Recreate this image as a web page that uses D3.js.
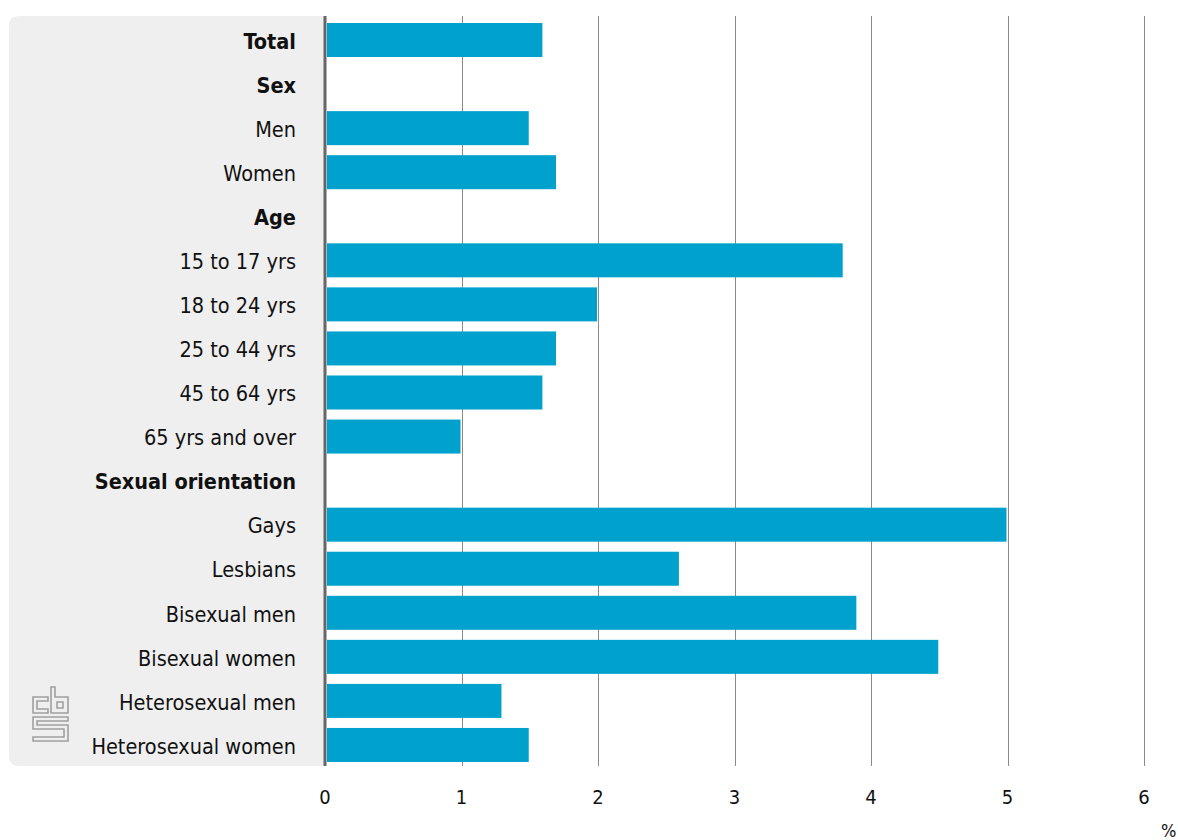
<!DOCTYPE html>
<html>
<head>
<meta charset="utf-8">
<script src="https://cdn.jsdelivr.net/npm/d3@7"></script>
<style>
  html, body { margin: 0; padding: 0; background: #fff; }
  svg { display: block; }
  text { font-family: "DejaVu Sans Condensed", "DejaVu Sans", sans-serif; }
</style>
</head>
<body>
<svg id="chart" width="1178" height="840"></svg>
<script>
const categories = ["Total", "Sex", "Men", "Women", "Age", "15 to 17 yrs", "18 to 24 yrs", "25 to 44 yrs", "45 to 64 yrs", "65 yrs and over", "Sexual orientation", "Gays", "Lesbians", "Bisexual men", "Bisexual women", "Heterosexual men", "Heterosexual women"];
const values = [1.6, null, 1.5, 1.7, null, 3.8, 2.0, 1.7, 1.6, 1.0, null, 5.0, 2.6, 3.9, 4.5, 1.3, 1.5];
const headers = ["Total", "Sex", "Age", "Sexual orientation"];
const ticks = [0, 1, 2, 3, 4, 5, 6];
const unitLabel = "%";

const svg = d3.select("#chart");
const x0 = 325, x1 = 1144, yTop = 16, yBottom = 766;

const x = d3.scaleLinear().domain([0, 6]).range([x0, x1]);
const y = d3.scaleBand().domain(categories).range([18, 767]).paddingInner(0.228).paddingOuter(0.114);

// grey panel with rounded left corners
const pl = 9, r = 10;
svg.append("path")
  .attr("d", `M${x0},${yTop} H${pl + r} Q${pl},${yTop} ${pl},${yTop + r} V${yBottom - r} Q${pl},${yBottom} ${pl + r},${yBottom} H${x0} Z`)
  .attr("fill", "#efefef");

// gridlines
svg.append("g").selectAll("line").data(ticks.filter(t => t > 0)).join("line")
  .attr("x1", d => Math.round(x(d)) + 0.5).attr("x2", d => Math.round(x(d)) + 0.5)
  .attr("y1", yTop).attr("y2", yBottom)
  .attr("stroke", "#8a8a8a").attr("stroke-width", 1);

// bars
svg.append("g").selectAll("rect").data(categories.filter((c, i) => values[i] != null)).join("rect")
  .attr("x", x(0) + 2)
  .attr("y", d => y(d))
  .attr("width", d => x(values[categories.indexOf(d)]) - x(0) - 3)
  .attr("height", y.bandwidth())
  .attr("fill", "#00a1cd");

// axis line
svg.append("line").attr("x1", x0).attr("x2", x0).attr("y1", yTop).attr("y2", yBottom)
  .attr("stroke", "#666").attr("stroke-width", 3);

// category labels
svg.append("g").selectAll("text").data(categories).join("text")
  .attr("x", 296)
  .attr("y", d => y(d) + y.bandwidth() / 2 + 1)
  .attr("dy", "0.36em")
  .attr("text-anchor", "end")
  .attr("font-size", 21.5)
  .attr("font-weight", d => headers.includes(d) ? "bold" : "normal")
  .attr("fill", "#111")
  .text(d => d);

// x tick labels
svg.append("g").selectAll("text").data(ticks).join("text")
  .attr("x", d => x(d))
  .attr("y", 797)
  .attr("dy", "0.36em")
  .attr("text-anchor", "middle")
  .attr("font-size", 20)
  .attr("fill", "#111")
  .text(d => d);

svg.append("text").attr("x", 1161).attr("y", 831).attr("dy", "0.36em")
  .attr("font-size", 18).attr("fill", "#111").text(unitLabel);

// CBS logo (outline)
const logo = svg.append("g").attr("transform", "translate(33,687)")
  .attr("fill", "none").attr("stroke", "#a0a0a0").attr("stroke-width", 1.6);
logo.append("path").attr("d", "M15,10 H0 V26 H15 V22 H4 V14 H15 Z");
logo.append("path").attr("d", "M18,0 H22 V10 H35 V26 H18 Z");
logo.append("path").attr("d", "M24,15 H30 V21 H24 Z");
logo.append("path").attr("d", "M0,30 H35 V34 H4 V38 H35 V54 H0 V50 H31 V42 H0 Z");
</script>
</body>
</html>
